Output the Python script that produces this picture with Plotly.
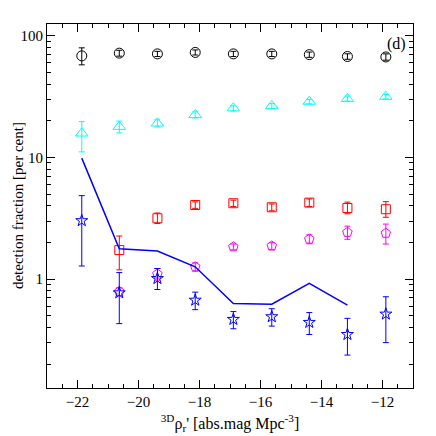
import plotly.graph_objects as go

# density bins (x positions)
xbins = [-21.86, -20.63, -19.38, -18.14, -16.89, -15.63, -14.40, -13.15, -11.89]

# black circles
circ_y = [68.4, 72, 71, 73, 71, 71, 70, 67.6, 67]
circ_up = [11.2, 4, 3.5, 3.5, 3.5, 3.5, 3.5, 3.5, 4]
circ_dn = [10.7, 4, 3.5, 3.5, 3.5, 3.5, 3.5, 3.5, 4]

# cyan triangles
tri_y = [15.8, 17.9, 19.1, 22.4, 25.4, 26.5, 28.8, 30.3, 31.6]
tri_up = [3.9, 2.0, 1.3, 1.3, 1.2, 1.2, 1.2, 1.2, 1.3]
tri_dn = [4.7, 2.0, 1.3, 1.3, 1.2, 1.2, 1.2, 1.2, 1.3]

# red squares
sq_x = xbins[1:]
sq_y = [1.73, 3.16, 4.06, 4.2, 3.89, 4.25, 3.84, 3.75]
sq_up = [0.53, 0.33, 0.25, 0.25, 0.25, 0.3, 0.45, 0.58]
sq_dn = [0.54, 0.3, 0.25, 0.25, 0.25, 0.3, 0.4, 0.53]

# magenta pentagons
pent_x = xbins[1:]
pent_y = [0.79, 1.1, 1.26, 1.84, 1.87, 2.13, 2.42, 2.38]
pent_up = [0.06, 0.12, 0.1, 0.1, 0.12, 0.18, 0.3, 0.45]
pent_dn = [0.06, 0.12, 0.1, 0.1, 0.12, 0.18, 0.3, 0.44]

# blue stars
star_y = [3.02, 0.77, 1.01, 0.67, 0.466, 0.49, 0.44, 0.35, 0.515]
star_up = [1.83, 0.36, 0.21, 0.11, 0.074, 0.08, 0.09, 0.125, 0.2]
star_dn = [1.74, 0.34, 0.19, 0.11, 0.076, 0.08, 0.09, 0.113, 0.215]

# blue line
line_x = xbins[:8]
line_y = [9.86, 1.77, 1.70, 1.26, 0.63, 0.62, 0.92, 0.61]

font = "Liberation Serif"

fig = go.Figure()


def add_points(x, y, up, dn, symbol, color, size):
    fig.add_trace(go.Scatter(
        x=x, y=y, mode="markers",
        marker=dict(symbol=symbol, size=size, color=color, line=dict(color=color, width=1)),
        error_y=dict(type="data", symmetric=False, array=up, arrayminus=dn,
                     color=color, thickness=1, width=3),
        showlegend=False))


add_points(xbins, circ_y, circ_up, circ_dn, "circle-open", "black", 10)
add_points(xbins, tri_y, tri_up, tri_dn, "triangle-up-open", "#00ffff", 11)
add_points(sq_x, sq_y, sq_up, sq_dn, "square-open", "#ff0000", 9)
add_points(pent_x, pent_y, pent_up, pent_dn, "pentagon-open", "#ff00ff", 10)

fig.add_trace(go.Scatter(x=line_x, y=line_y, mode="lines",
                         line=dict(color="#0000ff", width=1.5), showlegend=False))

add_points(xbins, star_y, star_up, star_dn, "star-open", "#0000ff", 9)

fig.add_annotation(x=0.985, y=0.975, xref="paper", yref="paper", text="(d)",
                   showarrow=False, xanchor="right", yanchor="top",
                   font=dict(family=font, size=16, color="black"))

# y axis title as a rotated annotation so it sits where the reference has it
fig.add_annotation(x=-0.079, y=0.5, xref="paper", yref="paper",
                   text="detection fraction [per cent]", textangle=-90,
                   showarrow=False, xanchor="center", yanchor="middle",
                   font=dict(family=font, size=15, color="black"))

minor_y = [m * 10 ** d for d in (-1, 0, 1) for m in range(2, 10)]

fig.update_xaxes(range=[-23, -11], tickvals=[-22, -20, -18, -16, -14, -12],
                 ticktext=["\u221222", "\u221220", "\u221218", "\u221216", "\u221214", "\u221212"],
                 ticks="inside", ticklen=8, tickcolor="black", mirror="ticks", automargin=False,
                 showline=True, linecolor="black", linewidth=1, showgrid=False, zeroline=False,
                 minor=dict(ticks="inside", ticklen=4, dtick=0.5, tickcolor="black", showgrid=False),
                 title=dict(text="<sup>3D</sup>\u03c1<sub>r</sub>' [abs.mag Mpc<sup>-3</sup>]",
                            standoff=8, font=dict(family=font, size=16, color="black")),
                 tickfont=dict(family=font, size=15, color="black"))

fig.update_yaxes(type="log", range=[-0.896, 2.097], tickvals=[1, 10, 100],
                 ticktext=["1", "10", "100"],
                 ticks="inside", ticklen=8, tickcolor="black", mirror="ticks", automargin=False,
                 showline=True, linecolor="black", linewidth=1, showgrid=False, zeroline=False,
                 minor=dict(ticks="inside", ticklen=4, tickvals=minor_y, tickcolor="black", showgrid=False),
                 tickfont=dict(family=font, size=15, color="black"))

fig.update_layout(width=436, height=436, margin=dict(l=47, r=23, t=24, b=48),
                  plot_bgcolor="white", paper_bgcolor="white")

fig.write_html("out.html", config={"displayModeBar": False},
               post_script="document.body.style.margin='0';")
